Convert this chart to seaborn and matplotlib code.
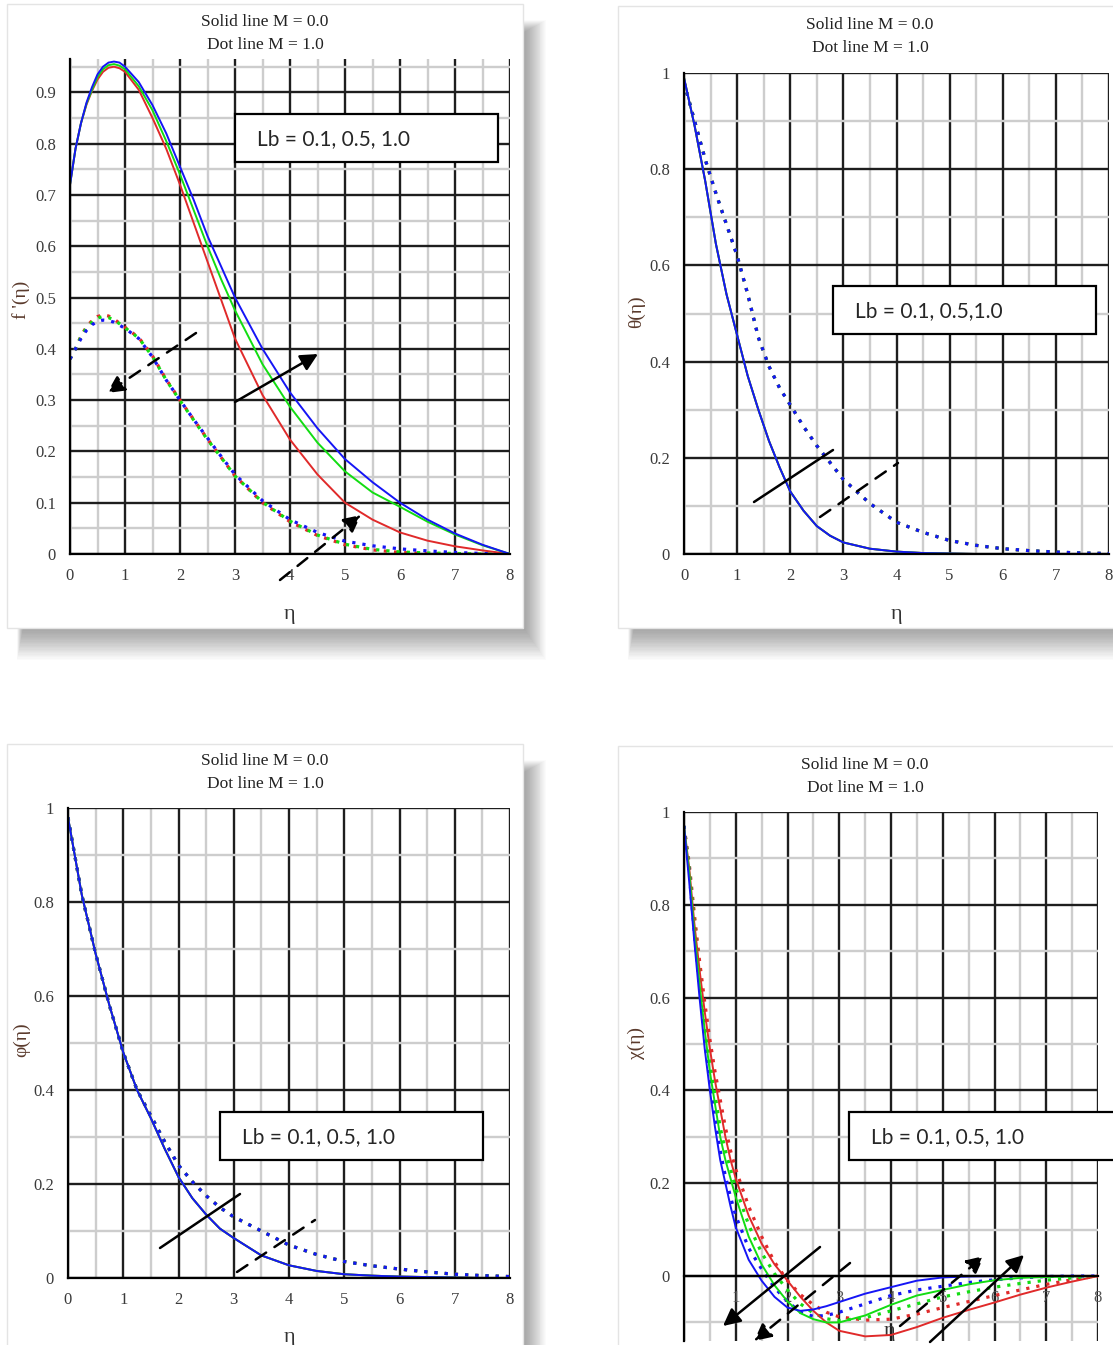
import matplotlib
matplotlib.use("Agg")
import matplotlib.pyplot as plt
from matplotlib.patches import Rectangle, FancyArrowPatch
from matplotlib.ticker import MultipleLocator, FuncFormatter
import seaborn as sns

W, H = 1113, 1345

# --- data ------------------------------------------------------------------
LB_COLORS = ["#e02a2a", "#12dd12", "#1515f5"]      # Lb = 0.1, 0.5, 1.0

ETA_F = [0, 0.1, 0.2, 0.3, 0.4, 0.5, 0.6, 0.7, 0.8, 0.9, 1.0, 1.25, 1.5, 1.75,
         2.0, 2.25, 2.5, 2.75, 3.0, 3.5, 4.0, 4.5, 5.0, 5.5, 6.0, 6.5, 7.0, 7.5, 8.0]
F_SOLID_LB01 = [0.72, 0.79, 0.84, 0.876, 0.903, 0.925, 0.94, 0.948, 0.95, 0.947, 0.94,
                0.905, 0.85, 0.79, 0.72, 0.645, 0.57, 0.495, 0.42, 0.31, 0.223, 0.155,
                0.10, 0.067, 0.042, 0.026, 0.015, 0.007, 0.0]
F_SOLID_LB05 = [0.72, 0.79, 0.84, 0.878, 0.905, 0.93, 0.945, 0.953, 0.955, 0.952, 0.945,
                0.912, 0.865, 0.805, 0.74, 0.67, 0.60, 0.535, 0.475, 0.37, 0.287, 0.217,
                0.161, 0.12, 0.092, 0.063, 0.038, 0.017, 0.0]
F_SOLID_LB10 = [0.72, 0.79, 0.84, 0.88, 0.91, 0.935, 0.95, 0.958, 0.96, 0.958, 0.95,
                0.92, 0.875, 0.82, 0.755, 0.69, 0.62, 0.56, 0.50, 0.40, 0.315, 0.245,
                0.185, 0.14, 0.10, 0.067, 0.04, 0.018, 0.0]
F_DOT_LB01 = [0.38, 0.40, 0.425, 0.443, 0.455, 0.463, 0.466, 0.464, 0.458, 0.45, 0.442,
              0.422, 0.386, 0.34, 0.30, 0.262, 0.224, 0.188, 0.152, 0.10, 0.063, 0.036,
              0.018, 0.008, 0.003, 0.001, 0.0, 0.0, 0.0]
F_DOT_LB05 = [0.38, 0.40, 0.424, 0.441, 0.452, 0.46, 0.463, 0.461, 0.456, 0.449, 0.441,
              0.421, 0.385, 0.339, 0.299, 0.261, 0.223, 0.188, 0.152, 0.101, 0.064, 0.037,
              0.019, 0.009, 0.004, 0.002, 0.001, 0.0, 0.0]
F_DOT_LB10 = [0.38, 0.40, 0.42, 0.436, 0.447, 0.453, 0.456, 0.455, 0.452, 0.446, 0.44,
              0.42, 0.384, 0.339, 0.30, 0.262, 0.226, 0.19, 0.155, 0.104, 0.067, 0.042,
              0.025, 0.016, 0.01, 0.006, 0.003, 0.001, 0.0]

ETA_T = [0, 0.2, 0.4, 0.6, 0.8, 1.0, 1.2, 1.4, 1.6, 1.8, 2.0, 2.25, 2.5, 2.75, 3.0,
         3.5, 4.0, 4.5, 5.0, 5.5, 6.0, 6.5, 7.0, 7.5, 8.0]
THETA_SOLID = [0.99, 0.89, 0.775, 0.645, 0.54, 0.455, 0.37, 0.30, 0.235, 0.18, 0.13,
               0.09, 0.058, 0.038, 0.024, 0.011, 0.005, 0.002, 0.001, 0.0, 0.0, 0.0,
               0.0, 0.0, 0.0]
THETA_DOT = [0.98, 0.90, 0.82, 0.75, 0.685, 0.62, 0.54, 0.45, 0.39, 0.345, 0.31, 0.265,
             0.225, 0.19, 0.155, 0.105, 0.066, 0.045, 0.028, 0.018, 0.011, 0.007, 0.004,
             0.002, 0.001]

ETA_P = [0, 0.25, 0.5, 0.75, 1.0, 1.25, 1.5, 1.75, 2.0, 2.25, 2.5, 2.75, 3.0, 3.5, 4.0,
         4.5, 5.0, 5.5, 6.0, 6.5, 7.0, 7.5, 8.0]
PHI_SOLID = [0.98, 0.815, 0.69, 0.58, 0.48, 0.40, 0.34, 0.275, 0.215, 0.17, 0.135, 0.105,
             0.085, 0.048, 0.027, 0.015, 0.008, 0.005, 0.003, 0.002, 0.001, 0.0, 0.0]
PHI_DOT = [0.98, 0.815, 0.69, 0.58, 0.48, 0.40, 0.345, 0.29, 0.24, 0.205, 0.175, 0.15,
           0.13, 0.10, 0.07, 0.05, 0.035, 0.026, 0.019, 0.013, 0.008, 0.005, 0.003]

ETA_C = ETA_F
CHI_SOLID_LB01 = [0.97, 0.88, 0.76, 0.66, 0.57, 0.49, 0.42, 0.36, 0.30, 0.25, 0.21,
                  0.13, 0.07, 0.025, -0.01, -0.045, -0.075, -0.1, -0.118,
                  -0.13, -0.127, -0.11, -0.09, -0.073, -0.057, -0.04, -0.025, -0.012, 0.0]
CHI_SOLID_LB05 = [0.97, 0.87, 0.74, 0.63, 0.53, 0.44, 0.37, 0.30, 0.25, 0.21, 0.17,
                  0.085, 0.025, -0.02, -0.055, -0.08, -0.093, -0.1, -0.1,
                  -0.085, -0.062, -0.042, -0.03, -0.018, -0.009, -0.004, -0.002, -0.001, 0.0]
CHI_SOLID_LB10 = [0.97, 0.85, 0.72, 0.60, 0.49, 0.40, 0.32, 0.25, 0.20, 0.15, 0.105,
                  0.035, -0.01, -0.045, -0.068, -0.075, -0.072, -0.065, -0.056,
                  -0.038, -0.024, -0.01, -0.003, -0.001, 0.0, 0.0, 0.0, 0.0, 0.0]
CHI_DOT_LB01 = [0.97, 0.89, 0.78, 0.68, 0.59, 0.51, 0.44, 0.38, 0.32, 0.27, 0.23,
                0.15, 0.085, 0.03, -0.01, -0.04, -0.062, -0.078, -0.088,
                -0.095, -0.093, -0.082, -0.068, -0.055, -0.042, -0.03, -0.018, -0.008, 0.0]
CHI_DOT_LB05 = [0.97, 0.88, 0.76, 0.65, 0.55, 0.46, 0.39, 0.32, 0.27, 0.23, 0.19,
                0.11, 0.05, 0.005, -0.03, -0.06, -0.08, -0.092, -0.096,
                -0.09, -0.075, -0.06, -0.045, -0.034, -0.024, -0.016, -0.009, -0.004, 0.0]
CHI_DOT_LB10 = [0.97, 0.87, 0.74, 0.62, 0.51, 0.42, 0.34, 0.27, 0.215, 0.17, 0.13,
                0.06, 0.015, -0.025, -0.055, -0.078, -0.087, -0.085, -0.078,
                -0.06, -0.042, -0.03, -0.022, -0.014, -0.008, -0.004, -0.001, 0.0, 0.0]

TITLE_LINES = ["Solid line M = 0.0", "Dot line M = 1.0"]


def fx(px):
    return px / W


def fy(py):
    return 1 - py / H


def panel(fig, x0, y0, x1, y1):
    # soft drop shadow (stacked faint rectangles), then the white card
    for k in range(24):
        g = k * 1.3
        left = x0 + 16 - 0.2 * g
        right = x1 + 2 + 0.7 * g
        top = y0 + 28 - 0.4 * g
        bottom = y1 + 2 + g
        fig.add_artist(Rectangle((fx(left), fy(bottom)), fx(right - left),
                                 fy(top) - fy(bottom),
                                 transform=fig.transFigure, facecolor="black",
                                 edgecolor="none", alpha=0.015, zorder=-3))
    fig.add_artist(Rectangle((fx(x0), fy(y1)), fx(x1 - x0), fy(0) - fy(y1 - y0),
                             transform=fig.transFigure, facecolor="white",
                             edgecolor="#e4e4e4", lw=1, zorder=-2))


def add_axes(fig, x0, y0, x1, y1):
    ax = fig.add_axes([fx(x0), fy(y1), fx(x1 - x0), fy(y0) - fy(y1)])
    ax.set_facecolor("none")
    return ax


def style(ax, ylim, ymaj, ymin, ylab, ylab_xy, xlab_xy, hide_zero=False):
    ax.set_xlim(0, 8)
    ax.set_ylim(*ylim)
    ax.xaxis.set_major_locator(MultipleLocator(1))
    ax.xaxis.set_minor_locator(MultipleLocator(0.5))
    ax.yaxis.set_major_locator(MultipleLocator(ymaj))
    ax.yaxis.set_minor_locator(MultipleLocator(ymin))
    ax.grid(which="major", color="#1e1e1e", lw=1.7)
    ax.grid(which="minor", color="#cdcdcd", lw=1.7)
    ax.set_axisbelow(True)
    for s in ["top", "right"]:
        ax.spines[s].set_visible(False)
    for s in ["left", "bottom"]:
        ax.spines[s].set_color("black")
        ax.spines[s].set_linewidth(1.6)
    ax.tick_params(which="both", direction="inout", color="black", labelsize=12,
                   labelcolor="#3a3a3a", pad=6)
    ax.tick_params(which="major", length=8, width=1.4)
    ax.tick_params(which="minor", length=5, width=1.2)
    ax.yaxis.set_major_formatter(FuncFormatter(lambda v, p: f"{v:g}"))
    if hide_zero:
        ax.xaxis.set_major_formatter(FuncFormatter(lambda v, p: "" if v == 0 else f"{v:g}"))
    else:
        ax.xaxis.set_major_formatter(FuncFormatter(lambda v, p: f"{v:g}"))
    ax.set_ylabel(ylab, fontsize=14, color="#5a3a2c")
    ax.set_xlabel("η", fontsize=16, color="#333333")
    ax.yaxis.set_label_coords(fx(ylab_xy[0]), fy(ylab_xy[1]), transform=ax.figure.transFigure)
    ax.xaxis.set_label_coords(fx(xlab_xy[0]), fy(xlab_xy[1]), transform=ax.figure.transFigure)


def draw(ax, eta, solids, dots):
    for vals, c in zip(dots, LB_COLORS):
        sns.lineplot(x=eta, y=vals, color=c, lw=2.3, linestyle=(0, (1, 2.2)),
                     ax=ax, estimator=None, sort=False)
    for vals, c in zip(solids, LB_COLORS):
        sns.lineplot(x=eta, y=vals, color=c, lw=1.4, ax=ax, estimator=None, sort=False)


def titles(fig, cx, y1, y2):
    for line, y in zip(TITLE_LINES, (y1, y2)):
        fig.text(fx(cx), fy(y), line, fontsize=12.5, ha="center", va="center",
                 color="#222222")


def lb_box(fig, x0, y0, x1, y1, text):
    fig.add_artist(Rectangle((fx(x0), fy(y1)), fx(x1 - x0), fy(0) - fy(y1 - y0),
                             transform=fig.transFigure, facecolor="white",
                             edgecolor="black", lw=1.6, zorder=5))
    fig.text(fx(x0 + 22), fy((y0 + y1) / 2 + 1), text, fontsize=15, family="Lato",
             ha="left", va="center", zorder=6)


def arrow(fig, p0, p1, dashed=False, head=True):
    fig.add_artist(FancyArrowPatch(
        (fx(p0[0]), fy(p0[1])), (fx(p1[0]), fy(p1[1])), transform=fig.transFigure,
        arrowstyle="-|>" if head else "-", mutation_scale=26, lw=1.8,
        linestyle=(0, (5, 4)) if dashed else "-", color="black",
        shrinkA=0, shrinkB=0, zorder=6))


sns.set_style("white")
plt.rcParams["font.family"] = ["Liberation Serif", "DejaVu Serif"]

fig = plt.figure(figsize=(W / 100, H / 100), dpi=100)
fig.patch.set_facecolor("white")

panel(fig, 7, 4, 523, 628)
panel(fig, 618, 6, 1125, 628)
panel(fig, 7, 744, 523, 1360)
panel(fig, 618, 746, 1125, 1360)

# f'(eta)
ax1 = add_axes(fig, 70, 59, 510, 554)
draw(ax1, ETA_F, [F_SOLID_LB01, F_SOLID_LB05, F_SOLID_LB10],
     [F_DOT_LB01, F_DOT_LB05, F_DOT_LB10])
style(ax1, (0, 0.965), 0.1, 0.05, "f '(η)", (30, 300), (290, 605))
titles(fig, 265, 22, 45)
lb_box(fig, 235, 114, 498, 162, "Lb = 0.1, 0.5, 1.0")
arrow(fig, (235, 402), (318, 354))
arrow(fig, (196, 333), (107, 393), dashed=True)
arrow(fig, (280, 580), (361, 515), dashed=True)

# theta(eta)
ax2 = add_axes(fig, 684, 73, 1109, 554)
draw(ax2, ETA_T, [THETA_SOLID] * 3, [THETA_DOT] * 3)
style(ax2, (0, 1), 0.2, 0.1, "θ(η)", (645, 312), (897, 605))
titles(fig, 870, 25, 48)
lb_box(fig, 833, 286, 1096, 334, "Lb = 0.1, 0.5,1.0")
arrow(fig, (754, 502), (833, 450), head=False)
arrow(fig, (820, 517), (898, 463), dashed=True, head=False)

# phi(eta)
ax3 = add_axes(fig, 68, 808, 510, 1278)
draw(ax3, ETA_P, [PHI_SOLID] * 3, [PHI_DOT] * 3)
style(ax3, (0, 1), 0.2, 0.1, "φ(η)", (30, 1040), (290, 1328))
titles(fig, 265, 761, 784)
lb_box(fig, 220, 1112, 483, 1160, "Lb = 0.1, 0.5, 1.0")
arrow(fig, (160, 1248), (240, 1194), head=False)
arrow(fig, (237, 1272), (315, 1220), dashed=True, head=False)

# chi(eta)
ax4 = add_axes(fig, 684, 812, 1098, 1341)
draw(ax4, ETA_C, [CHI_SOLID_LB01, CHI_SOLID_LB05, CHI_SOLID_LB10],
     [CHI_DOT_LB01, CHI_DOT_LB05, CHI_DOT_LB10])
style(ax4, (-0.14, 1), 0.2, 0.1, "χ(η)", (645, 1043), (890, 1322), hide_zero=True)
ax4.spines["bottom"].set_position(("data", 0))
ax4.tick_params(axis="x", labelcolor="#555555", labelsize=12)
titles(fig, 865, 765, 788)
lb_box(fig, 849, 1112, 1125, 1160, "Lb = 0.1, 0.5, 1.0")
arrow(fig, (820, 1247), (723, 1326))
arrow(fig, (850, 1263), (754, 1341), dashed=True)
arrow(fig, (900, 1326), (984, 1256), dashed=True)
arrow(fig, (930, 1342), (1024, 1255))

fig.savefig("out.png", dpi=100, facecolor="white")
